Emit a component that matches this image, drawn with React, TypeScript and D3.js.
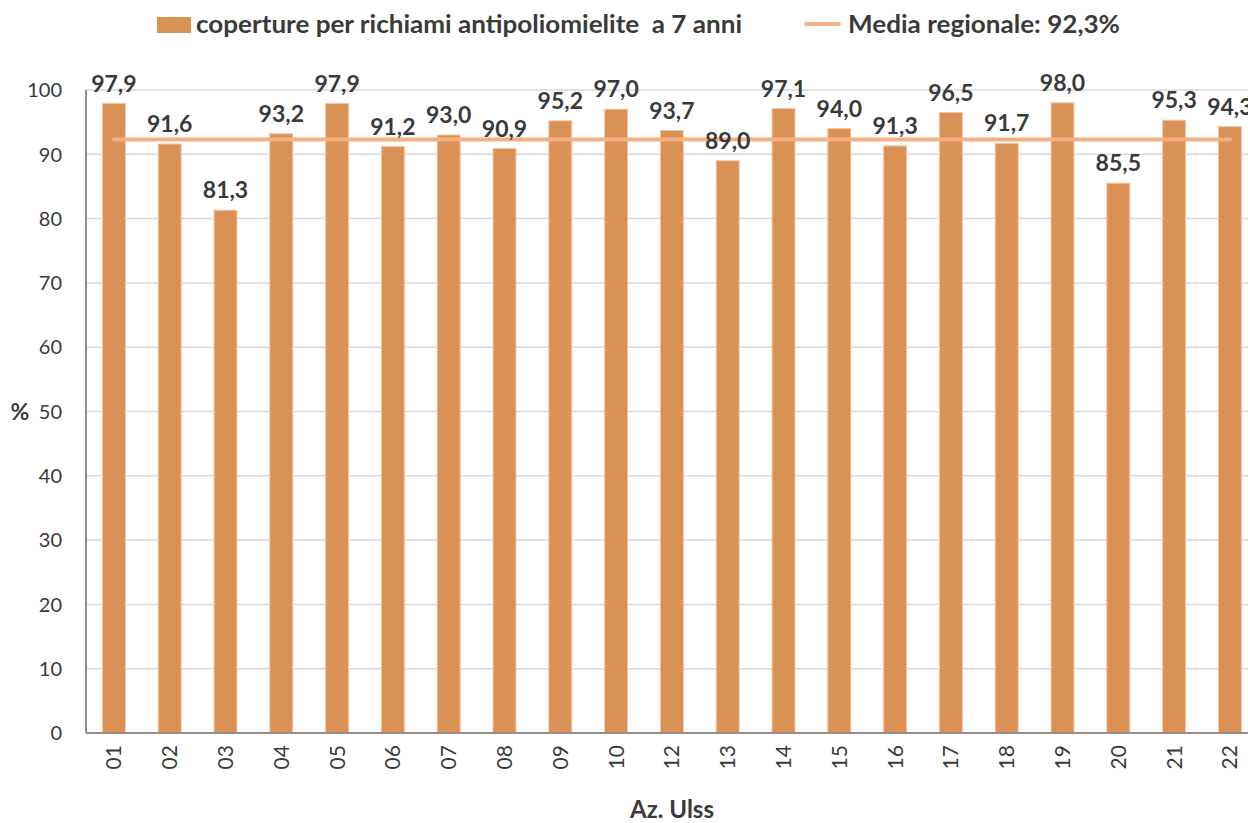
import React, { useEffect, useRef } from "react";
import * as d3 from "d3";

const categories = ["01","02","03","04","05","06","07","08","09","10","12","13","14","15","16","17","18","19","20","21","22"];
const coverage = [97.9,91.6,81.3,93.2,97.9,91.2,93.0,90.9,95.2,97.0,93.7,89.0,97.1,94.0,91.3,96.5,91.7,98.0,85.5,95.3,94.3];
const regionalMean = 92.3;
const yTicks = [0,10,20,30,40,50,60,70,80,90,100];
const seriesLabel = "coperture per richiami antipoliomielite  a 7 anni";
const meanLabel = "Media regionale: 92,3%";
const xTitle = "Az. Ulss";
const yTitle = "%";

const W = 1248, H = 823;
const FONT = "Lato, 'Open Sans', sans-serif";
const BAR = "#D99155";
const BAR_EDGE = "#F2C3A0";
const MEAN = "#F4B183";
const TEXT = "#3A3A3A";

export default function App() {
  const ref = useRef<SVGSVGElement>(null);
  useEffect(() => {
    document.body.style.margin = "0";
    const svg = d3.select(ref.current);
    svg.selectAll("*").remove();
    const left = 86, top = 90, bottom = 733;
    const band = 55.8;
    const x = d3.scaleBand<string>().domain(categories).range([left, left + band * categories.length]).paddingInner(0.59).paddingOuter(0.295);
    const y = d3.scaleLinear().domain([0, 100]).range([bottom, top]);
    const right = left + band * categories.length;

    const g = svg.append("g");
    g.selectAll("line.grid").data(yTicks.filter(t => t > 0)).join("line")
      .attr("x1", left).attr("x2", right).attr("y1", d => y(d)).attr("y2", d => y(d))
      .attr("stroke", "#D9D9D9").attr("stroke-width", 1.5);
    g.selectAll("text.yt").data(yTicks).join("text")
      .attr("x", 62).attr("y", d => y(d)).attr("dy", "0.36em").attr("text-anchor", "end")
      .attr("font-family", FONT).attr("font-size", 20).attr("fill", TEXT).text(d => String(d));
    g.selectAll("rect.bar").data(coverage).join("rect")
      .attr("x", (d, i) => x(categories[i])!).attr("width", x.bandwidth())
      .attr("y", d => y(d)).attr("height", d => bottom - y(d))
      .attr("fill", BAR).attr("stroke", BAR_EDGE).attr("stroke-width", 1);
    g.append("line").attr("x1", left).attr("x2", left).attr("y1", top).attr("y2", bottom).attr("stroke", "#9A8C88").attr("stroke-width", 2);
    g.append("line").attr("x1", left).attr("x2", right).attr("y1", bottom).attr("y2", bottom).attr("stroke", "#9A8C88").attr("stroke-width", 2);
    const cx = (c: string) => x(c)! + x.bandwidth() / 2;
    g.append("line").attr("x1", cx(categories[0])).attr("x2", cx(categories[categories.length - 1]))
      .attr("y1", y(regionalMean)).attr("y2", y(regionalMean))
      .attr("stroke", MEAN).attr("stroke-width", 4).attr("stroke-linecap", "round");
    g.selectAll("text.vl").data(coverage).join("text")
      .attr("x", (d, i) => cx(categories[i])).attr("y", d => y(d) - 12)
      .attr("text-anchor", "middle").attr("font-family", FONT).attr("font-weight", "bold")
      .attr("font-size", 23).attr("fill", TEXT).text(d => d.toFixed(1).replace(".", ","));
    g.selectAll("text.xt").data(categories).join("text")
      .attr("transform", d => `translate(${cx(d)},745) rotate(-90)`).attr("dy", "0.36em")
      .attr("text-anchor", "end").attr("font-family", FONT).attr("font-size", 21).attr("fill", TEXT).text(d => d);
    g.append("text").attr("x", 672).attr("y", 818).attr("text-anchor", "middle")
      .attr("font-family", FONT).attr("font-weight", "bold").attr("font-size", 24).attr("fill", TEXT).text(xTitle);
    g.append("text").attr("x", 20).attr("y", y(50)).attr("dy", "0.36em").attr("text-anchor", "middle")
      .attr("font-family", FONT).attr("font-weight", "bold").attr("font-size", 23).attr("fill", TEXT).text(yTitle);
    g.append("rect").attr("x", 157).attr("y", 17).attr("width", 34).attr("height", 16).attr("fill", BAR);
    g.append("text").attr("x", 196).attr("y", 33).attr("font-family", FONT).attr("font-weight", "bold")
      .attr("font-size", 24).attr("fill", TEXT).attr("xml:space", "preserve")
      .attr("textLength", 546).attr("lengthAdjust", "spacingAndGlyphs").text(seriesLabel);
    g.append("line").attr("x1", 806).attr("x2", 839).attr("y1", 24).attr("y2", 24)
      .attr("stroke", MEAN).attr("stroke-width", 4).attr("stroke-linecap", "round");
    g.append("text").attr("x", 848).attr("y", 33).attr("font-family", FONT).attr("font-weight", "bold")
      .attr("font-size", 24).attr("fill", TEXT)
      .attr("textLength", 272).attr("lengthAdjust", "spacingAndGlyphs").text(meanLabel);
  }, []);
  return <svg ref={ref} width={W} height={H} style={{ position: "absolute", left: 0, top: 0, overflow: "hidden", background: "#fff" }} />;
}
